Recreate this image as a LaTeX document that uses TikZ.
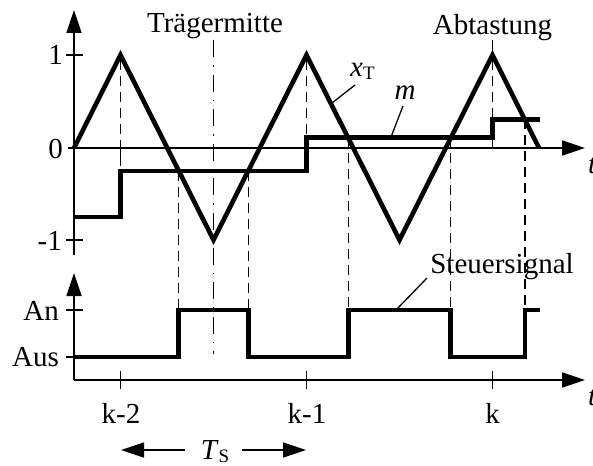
\documentclass[tikz,border=0pt]{standalone}
\usepackage{fontspec}
\setmainfont{Liberation Serif}
\usetikzlibrary{arrows.meta}
\begin{document}
\begin{tikzpicture}[x=1pt,y=-1pt,
  axis/.style={line width=1.6pt},
  axarrow/.style={line width=1.6pt,-{Triangle[length=23pt,width=15pt]}},
  sig/.style={line width=4.6pt},
  guide/.style={line width=1.6pt,dash pattern=on 10pt off 6pt},
  centre/.style={line width=1.6pt,dash pattern=on 17pt off 8pt on 1.6pt off 8pt},
  leader/.style={line width=1.3pt},
  lbl/.style={inner sep=0pt,font=\fontsize{29}{34}\selectfont},
  subs/.style={}]
\useasboundingbox (0,0) rectangle (593,465);
% axes
\coordinate (yb1) at (74,255); \coordinate (yt1) at (74,10);
\coordinate (xl1) at (68,148); \coordinate (xr1) at (585,148);
\coordinate (o2) at (74,380); \coordinate (yt2) at (74,273);
\coordinate (xr2) at (585,380);
\draw[axarrow] (yb1) -- (yt1);
\draw[axarrow] (xl1) -- (xr1);
\draw[axarrow] (o2) -- (yt2);
\draw[axarrow] (o2) -- (xr2);
% ticks
\draw[axis] (66,55) -- (83,55);
\draw[axis] (66,240) -- (83,240);
\draw[axis] (66,310) -- (83,310);
\draw[axis] (66,357) -- (74,357);
\draw[axis] (120.5,140) -- (120.5,157);
\foreach \xx in {120.5,306.5,492.5} \draw[axis] (\xx,371) -- (\xx,389);
% guide lines
\draw[guide] (120.5,60) -- (120.5,171);
\draw[guide] (306.5,60) -- (306.5,137);
\draw[guide] (492.5,60) -- (492.5,148);
\draw[leader] (492.5,40) -- (492.5,55);
\draw[guide] (178.6,171) -- (178.6,308);
\draw[guide] (248.4,171) -- (248.4,308);
\draw[guide] (348.4,137) -- (348.4,308);
\draw[guide] (450.6,137) -- (450.6,308);
\draw[guide] (525,119) -- (525,308);
\draw[centre] (213.5,40) -- (213.5,354);
% carrier
\draw[sig] (74,148) -- (120.5,55) -- (213.5,240) -- (306.5,55) -- (399.5,240) -- (492.5,55) -- (539,148);
% modulation
\draw[sig] (74,217) -- (120.5,217) -- (120.5,171) -- (306.5,171) -- (306.5,137.5) -- (492.5,137.5) -- (492.5,119.5) -- (540,119.5);
% control signal
\draw[sig] (74,357) -- (178.6,357) -- (178.6,310) -- (248.4,310) -- (248.4,357) -- (348.4,357) -- (348.4,310) -- (450.6,310) -- (450.6,357) -- (525,357) -- (525,310) -- (540,310);
% labels
\node[lbl,anchor=base east] (l1) at (63,65) {1};
\node[lbl,anchor=base east] (l0) at (63,158) {0};
\node[lbl,anchor=base east] (lm1) at (62,250) {-1};
\node[lbl,anchor=base east] (lan) at (59,320) {An};
\node[lbl,anchor=base east] (laus) at (59,366) {Aus};
\node[lbl,anchor=base] (k2) at (121,423) {k-2};
\node[lbl,anchor=base] (k1) at (307,423) {k-1};
\node[lbl,anchor=base] (k0) at (492.5,423) {k};
\node[lbl,anchor=base] (trm) at (215,33) {Trägermitte};
\node[lbl,anchor=base] (abt) at (492.5,35) {Abtastung};
\node[lbl,anchor=base] (st) at (502,273) {Steuersignal};
\node[lbl,anchor=base west] (xt) at (350,77) {\textit{x}\raisebox{-3pt}{\fontsize{19}{20}\selectfont T}};
\node[lbl,anchor=base] (lm) at (405,100) {\textit{m}};
\node[lbl,anchor=base west] (t1) at (588,173) {\textit{t}};
\node[lbl,anchor=base west] (t2) at (588,405) {\textit{t}};
\node[lbl,anchor=base] (ts) at (215,459) {\textit{T}\raisebox{-3pt}{\fontsize{19}{20}\selectfont S}};
% leaders
\coordinate (xtp) at (332,103);
\coordinate (mp) at (391,137);
\coordinate (stp) at (396,310);
\draw[leader] (355,85) -- (xtp);
\draw[leader] (403,106) -- (mp);
\draw[leader] (427,278) -- (stp);
% T_S arrows
\coordinate (tsl) at (121,450); \coordinate (tsr) at (306,450);
\draw[axarrow] (185,450) -- (tsl);
\draw[axarrow] (242,450) -- (tsr);
\end{tikzpicture}
\end{document}
